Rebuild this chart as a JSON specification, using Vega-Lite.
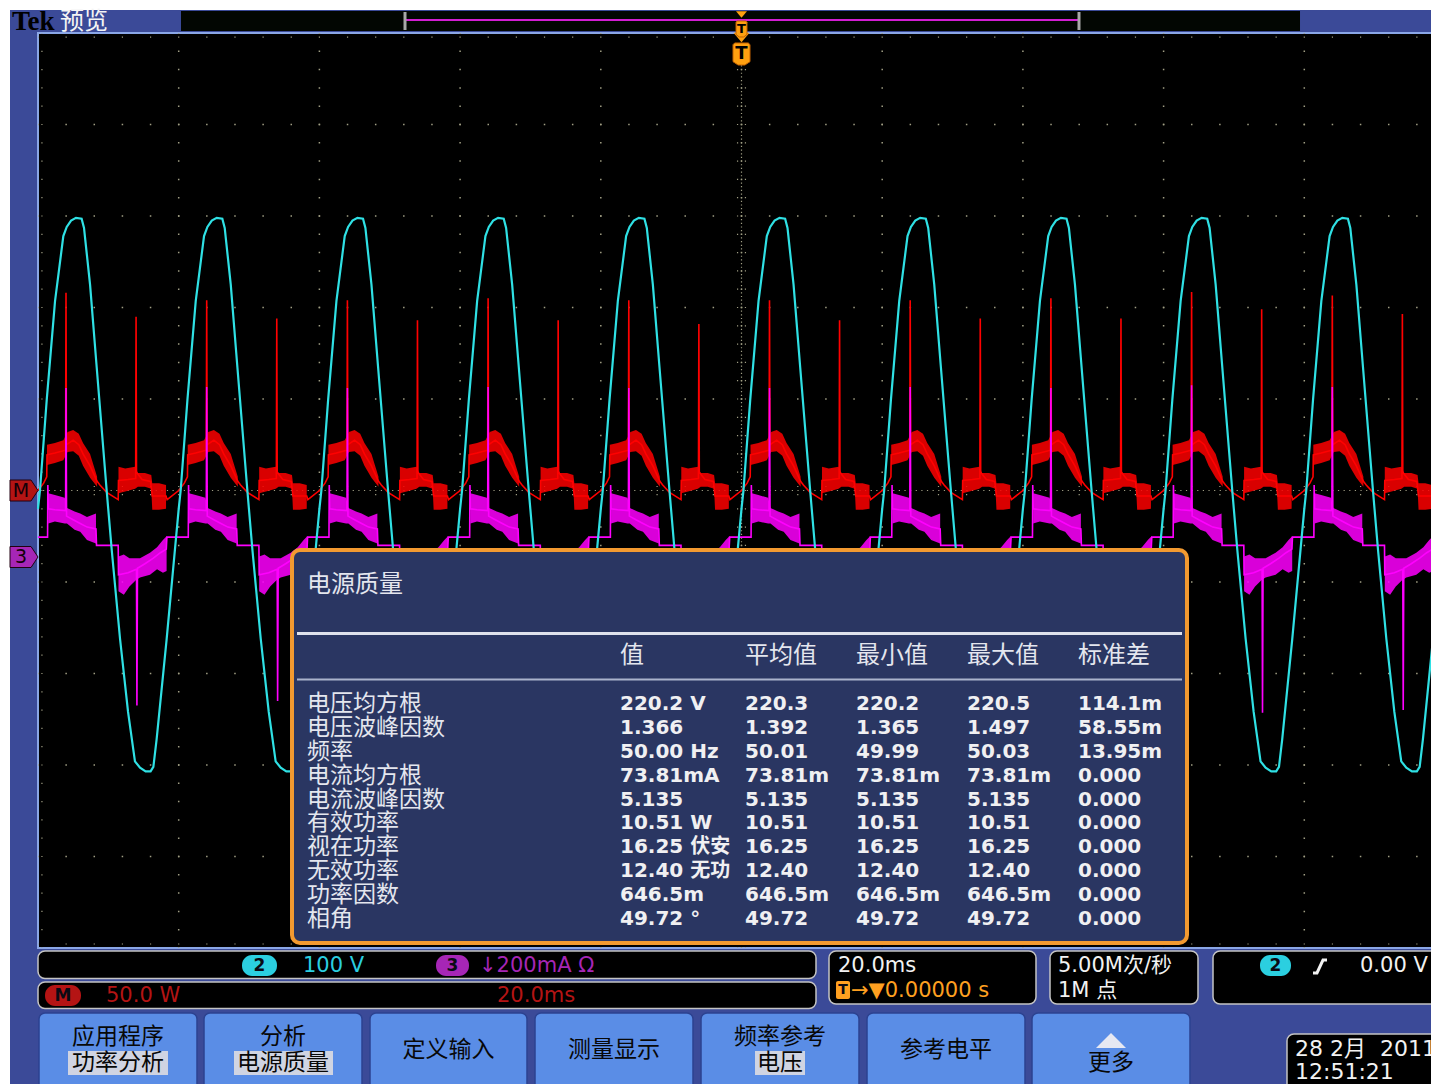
{
"$schema": "https://vega.github.io/schema/vega-lite/v6.json",
"width": 1431, "height": 1084, "autosize": "none", "padding": 0, "background": "white",
"config": {"view": {"stroke": null}},
"encoding": {
 "x": {"field": "x", "type": "quantitative", "scale": {"domain": [-0.2701, 9.9005], "nice": false, "zero": false}, "axis": null},
 "y": {"field": "y", "type": "quantitative", "scale": {"domain": [-6.4863, 5.3607], "nice": false, "zero": false}, "axis": null}
},
"datasets": {
 "frame": [{"x": -0.199, "x2": 10.2, "y": -6.7, "y2": 5.2514}],
 "bar": [{"x": 1.0163, "x2": 8.9695, "y": 5.0219, "y2": 5.2404}],
 "barline": [{"x": 2.6084, "x2": 7.3987, "y": 5.1421}],
 "brackets": [{"x": 2.6084, "y": 5.2295, "y2": 5.0328}, {"x": 7.3987, "y": 5.2295, "y2": 5.0328}],
 "plot": [{"x": 0, "x2": 10.2, "y": -5, "y2": 5}],
 "vgrid": [{"x": 1, "y": 5, "y2": -5}, {"x": 2, "y": 5, "y2": -5}, {"x": 3, "y": 5, "y2": -5}, {"x": 4, "y": 5, "y2": -5}, {"x": 5, "y": 5, "y2": -5}, {"x": 6, "y": 5, "y2": -5}, {"x": 7, "y": 5, "y2": -5}, {"x": 8, "y": 5, "y2": -5}, {"x": 9, "y": 5, "y2": -5}],
 "hgrid": [{"x": 0, "x2": 10.1, "y": 4}, {"x": 0, "x2": 10.1, "y": 3}, {"x": 0, "x2": 10.1, "y": 2}, {"x": 0, "x2": 10.1, "y": 1}, {"x": 0, "x2": 10.1, "y": -1}, {"x": 0, "x2": 10.1, "y": -2}, {"x": 0, "x2": 10.1, "y": -3}, {"x": 0, "x2": 10.1, "y": -4}],
 "vc": [{"x": 5, "y": 5, "y2": -5}],
 "hc": [{"x": 0, "x2": 10.1, "y": 0}],
 "vt": [{"x": 4.972, "y": 5, "y2": -5}, {"x": 5.028, "y": 5, "y2": -5}, {"x": 0.028, "y": 5, "y2": -5}],
 "ht": [{"x": 0, "x2": 10.1, "y": 0.044}, {"x": 0, "x2": 10.1, "y": -0.044}, {"x": 0, "x2": 10.1, "y": 4.956}, {"x": 0, "x2": 10.1, "y": -4.956}],
 "cyan": [
  {"x":0,"y":-0.2},{"x":0.014,"y":0},{"x":0.062,"y":0.99},{"x":0.121,"y":2.07},{"x":0.18,"y":2.78},{"x":0.204,"y":2.88},{"x":0.235,"y":2.95},{"x":0.27,"y":2.98},{"x":0.31,"y":2.97},{"x":0.327,"y":2.87},{"x":0.336,"y":2.74},{"x":0.37,"y":2.25},{"x":0.417,"y":1.35},{"x":0.488,"y":0},{"x":0.524,"y":-0.65},{"x":0.583,"y":-1.62},{"x":0.64,"y":-2.42},{"x":0.689,"y":-2.96},{"x":0.725,"y":-3.03},{"x":0.765,"y":-3.07},{"x":0.8,"y":-3.07},{"x":0.82,"y":-3.02},{"x":0.843,"y":-2.72},{"x":0.914,"y":-1.63},
  {"x":1,"y":-0.2},{"x":1.014,"y":0},{"x":1.062,"y":0.99},{"x":1.121,"y":2.07},{"x":1.18,"y":2.78},{"x":1.204,"y":2.88},{"x":1.235,"y":2.95},{"x":1.27,"y":2.98},{"x":1.31,"y":2.97},{"x":1.327,"y":2.87},{"x":1.336,"y":2.74},{"x":1.37,"y":2.25},{"x":1.417,"y":1.35},{"x":1.488,"y":0},{"x":1.524,"y":-0.65},{"x":1.583,"y":-1.62},{"x":1.64,"y":-2.42},{"x":1.689,"y":-2.96},{"x":1.725,"y":-3.03},{"x":1.765,"y":-3.07},{"x":1.8,"y":-3.07},{"x":1.82,"y":-3.02},{"x":1.843,"y":-2.72},{"x":1.914,"y":-1.63},
  {"x":2,"y":-0.2},{"x":2.014,"y":0},{"x":2.062,"y":0.99},{"x":2.121,"y":2.07},{"x":2.18,"y":2.78},{"x":2.204,"y":2.88},{"x":2.235,"y":2.95},{"x":2.27,"y":2.98},{"x":2.31,"y":2.97},{"x":2.327,"y":2.87},{"x":2.336,"y":2.74},{"x":2.37,"y":2.25},{"x":2.417,"y":1.35},{"x":2.488,"y":0},{"x":2.524,"y":-0.65},{"x":2.583,"y":-1.62},{"x":2.64,"y":-2.42},{"x":2.689,"y":-2.96},{"x":2.725,"y":-3.03},{"x":2.765,"y":-3.07},{"x":2.8,"y":-3.07},{"x":2.82,"y":-3.02},{"x":2.843,"y":-2.72},{"x":2.914,"y":-1.63},
  {"x":3,"y":-0.2},{"x":3.014,"y":0},{"x":3.062,"y":0.99},{"x":3.121,"y":2.07},{"x":3.18,"y":2.78},{"x":3.204,"y":2.88},{"x":3.235,"y":2.95},{"x":3.27,"y":2.98},{"x":3.31,"y":2.97},{"x":3.327,"y":2.87},{"x":3.336,"y":2.74},{"x":3.37,"y":2.25},{"x":3.417,"y":1.35},{"x":3.488,"y":0},{"x":3.524,"y":-0.65},{"x":3.583,"y":-1.62},{"x":3.64,"y":-2.42},{"x":3.689,"y":-2.96},{"x":3.725,"y":-3.03},{"x":3.765,"y":-3.07},{"x":3.8,"y":-3.07},{"x":3.82,"y":-3.02},{"x":3.843,"y":-2.72},{"x":3.914,"y":-1.63},
  {"x":4,"y":-0.2},{"x":4.014,"y":0},{"x":4.062,"y":0.99},{"x":4.121,"y":2.07},{"x":4.18,"y":2.78},{"x":4.204,"y":2.88},{"x":4.235,"y":2.95},{"x":4.27,"y":2.98},{"x":4.31,"y":2.97},{"x":4.327,"y":2.87},{"x":4.336,"y":2.74},{"x":4.37,"y":2.25},{"x":4.417,"y":1.35},{"x":4.488,"y":0},{"x":4.524,"y":-0.65},{"x":4.583,"y":-1.62},{"x":4.64,"y":-2.42},{"x":4.689,"y":-2.96},{"x":4.725,"y":-3.03},{"x":4.765,"y":-3.07},{"x":4.8,"y":-3.07},{"x":4.82,"y":-3.02},{"x":4.843,"y":-2.72},{"x":4.914,"y":-1.63},
  {"x":5,"y":-0.2},{"x":5.014,"y":0},{"x":5.062,"y":0.99},{"x":5.121,"y":2.07},{"x":5.18,"y":2.78},{"x":5.204,"y":2.88},{"x":5.235,"y":2.95},{"x":5.27,"y":2.98},{"x":5.31,"y":2.97},{"x":5.327,"y":2.87},{"x":5.336,"y":2.74},{"x":5.37,"y":2.25},{"x":5.417,"y":1.35},{"x":5.488,"y":0},{"x":5.524,"y":-0.65},{"x":5.583,"y":-1.62},{"x":5.64,"y":-2.42},{"x":5.689,"y":-2.96},{"x":5.725,"y":-3.03},{"x":5.765,"y":-3.07},{"x":5.8,"y":-3.07},{"x":5.82,"y":-3.02},{"x":5.843,"y":-2.72},{"x":5.914,"y":-1.63},
  {"x":6,"y":-0.2},{"x":6.014,"y":0},{"x":6.062,"y":0.99},{"x":6.121,"y":2.07},{"x":6.18,"y":2.78},{"x":6.204,"y":2.88},{"x":6.235,"y":2.95},{"x":6.27,"y":2.98},{"x":6.31,"y":2.97},{"x":6.327,"y":2.87},{"x":6.336,"y":2.74},{"x":6.37,"y":2.25},{"x":6.417,"y":1.35},{"x":6.488,"y":0},{"x":6.524,"y":-0.65},{"x":6.583,"y":-1.62},{"x":6.64,"y":-2.42},{"x":6.689,"y":-2.96},{"x":6.725,"y":-3.03},{"x":6.765,"y":-3.07},{"x":6.8,"y":-3.07},{"x":6.82,"y":-3.02},{"x":6.843,"y":-2.72},{"x":6.914,"y":-1.63},
  {"x":7,"y":-0.2},{"x":7.014,"y":0},{"x":7.062,"y":0.99},{"x":7.121,"y":2.07},{"x":7.18,"y":2.78},{"x":7.204,"y":2.88},{"x":7.235,"y":2.95},{"x":7.27,"y":2.98},{"x":7.31,"y":2.97},{"x":7.327,"y":2.87},{"x":7.336,"y":2.74},{"x":7.37,"y":2.25},{"x":7.417,"y":1.35},{"x":7.488,"y":0},{"x":7.524,"y":-0.65},{"x":7.583,"y":-1.62},{"x":7.64,"y":-2.42},{"x":7.689,"y":-2.96},{"x":7.725,"y":-3.03},{"x":7.765,"y":-3.07},{"x":7.8,"y":-3.07},{"x":7.82,"y":-3.02},{"x":7.843,"y":-2.72},{"x":7.914,"y":-1.63},
  {"x":8,"y":-0.2},{"x":8.014,"y":0},{"x":8.062,"y":0.99},{"x":8.121,"y":2.07},{"x":8.18,"y":2.78},{"x":8.204,"y":2.88},{"x":8.235,"y":2.95},{"x":8.27,"y":2.98},{"x":8.31,"y":2.97},{"x":8.327,"y":2.87},{"x":8.336,"y":2.74},{"x":8.37,"y":2.25},{"x":8.417,"y":1.35},{"x":8.488,"y":0},{"x":8.524,"y":-0.65},{"x":8.583,"y":-1.62},{"x":8.64,"y":-2.42},{"x":8.689,"y":-2.96},{"x":8.725,"y":-3.03},{"x":8.765,"y":-3.07},{"x":8.8,"y":-3.07},{"x":8.82,"y":-3.02},{"x":8.843,"y":-2.72},{"x":8.914,"y":-1.63},
  {"x":9,"y":-0.2},{"x":9.014,"y":0},{"x":9.062,"y":0.99},{"x":9.121,"y":2.07},{"x":9.18,"y":2.78},{"x":9.204,"y":2.88},{"x":9.235,"y":2.95},{"x":9.27,"y":2.98},{"x":9.31,"y":2.97},{"x":9.327,"y":2.87},{"x":9.336,"y":2.74},{"x":9.37,"y":2.25},{"x":9.417,"y":1.35},{"x":9.488,"y":0},{"x":9.524,"y":-0.65},{"x":9.583,"y":-1.62},{"x":9.64,"y":-2.42},{"x":9.689,"y":-2.96},{"x":9.725,"y":-3.03},{"x":9.765,"y":-3.07},{"x":9.8,"y":-3.07},{"x":9.82,"y":-3.02},{"x":9.843,"y":-2.72},{"x":9.914,"y":-1.63},
  {"x":10,"y":-0.2}
 ],
 "red": [
  {"x":0,"y":0},{"x":0.04,"y":0.08},{"x":0.062,"y":0.15},{"x":0.064,"y":0.39},{"x":0.12,"y":0.41},{"x":0.196,"y":0.44},{"x":0.199,"y":2.16},{"x":0.202,"y":0.5},{"x":0.25,"y":0.55},{"x":0.29,"y":0.5},{"x":0.32,"y":0.4},{"x":0.37,"y":0.27},{"x":0.42,"y":0.1},{"x":0.44,"y":0.06},{"x":0.488,"y":-0.02},{"x":0.57,"y":-0.1},{"x":0.572,"y":0.11},{"x":0.64,"y":0.12},{"x":0.694,"y":0.13},{"x":0.697,"y":1.9},{"x":0.7,"y":0.2},{"x":0.74,"y":0.12},{"x":0.8,"y":0.1},{"x":0.812,"y":-0.06},{"x":0.91,"y":-0.06},{"x":0.918,"y":-0.1},
  {"x":1,"y":0},{"x":1.04,"y":0.08},{"x":1.062,"y":0.15},{"x":1.064,"y":0.39},{"x":1.12,"y":0.41},{"x":1.196,"y":0.44},{"x":1.199,"y":2.08},{"x":1.202,"y":0.5},{"x":1.25,"y":0.55},{"x":1.29,"y":0.5},{"x":1.32,"y":0.4},{"x":1.37,"y":0.27},{"x":1.42,"y":0.1},{"x":1.44,"y":0.06},{"x":1.488,"y":-0.02},{"x":1.57,"y":-0.1},{"x":1.572,"y":0.11},{"x":1.64,"y":0.12},{"x":1.694,"y":0.13},{"x":1.697,"y":1.88},{"x":1.7,"y":0.2},{"x":1.74,"y":0.12},{"x":1.8,"y":0.1},{"x":1.812,"y":-0.06},{"x":1.91,"y":-0.06},{"x":1.918,"y":-0.1},
  {"x":2,"y":0},{"x":2.04,"y":0.08},{"x":2.062,"y":0.15},{"x":2.064,"y":0.39},{"x":2.12,"y":0.41},{"x":2.196,"y":0.44},{"x":2.199,"y":2.08},{"x":2.202,"y":0.5},{"x":2.25,"y":0.55},{"x":2.29,"y":0.5},{"x":2.32,"y":0.4},{"x":2.37,"y":0.27},{"x":2.42,"y":0.1},{"x":2.44,"y":0.06},{"x":2.488,"y":-0.02},{"x":2.57,"y":-0.1},{"x":2.572,"y":0.11},{"x":2.64,"y":0.12},{"x":2.694,"y":0.13},{"x":2.697,"y":1.86},{"x":2.7,"y":0.2},{"x":2.74,"y":0.12},{"x":2.8,"y":0.1},{"x":2.812,"y":-0.06},{"x":2.91,"y":-0.06},{"x":2.918,"y":-0.1},
  {"x":3,"y":0},{"x":3.04,"y":0.08},{"x":3.062,"y":0.15},{"x":3.064,"y":0.39},{"x":3.12,"y":0.41},{"x":3.196,"y":0.44},{"x":3.199,"y":2.1},{"x":3.202,"y":0.5},{"x":3.25,"y":0.55},{"x":3.29,"y":0.5},{"x":3.32,"y":0.4},{"x":3.37,"y":0.27},{"x":3.42,"y":0.1},{"x":3.44,"y":0.06},{"x":3.488,"y":-0.02},{"x":3.57,"y":-0.1},{"x":3.572,"y":0.11},{"x":3.64,"y":0.12},{"x":3.694,"y":0.13},{"x":3.697,"y":1.86},{"x":3.7,"y":0.2},{"x":3.74,"y":0.12},{"x":3.8,"y":0.1},{"x":3.812,"y":-0.06},{"x":3.91,"y":-0.06},{"x":3.918,"y":-0.1},
  {"x":4,"y":0},{"x":4.04,"y":0.08},{"x":4.062,"y":0.15},{"x":4.064,"y":0.39},{"x":4.12,"y":0.41},{"x":4.196,"y":0.44},{"x":4.199,"y":2.08},{"x":4.202,"y":0.5},{"x":4.25,"y":0.55},{"x":4.29,"y":0.5},{"x":4.32,"y":0.4},{"x":4.37,"y":0.27},{"x":4.42,"y":0.1},{"x":4.44,"y":0.06},{"x":4.488,"y":-0.02},{"x":4.57,"y":-0.1},{"x":4.572,"y":0.11},{"x":4.64,"y":0.12},{"x":4.694,"y":0.13},{"x":4.697,"y":1.82},{"x":4.7,"y":0.2},{"x":4.74,"y":0.12},{"x":4.8,"y":0.1},{"x":4.812,"y":-0.06},{"x":4.91,"y":-0.06},{"x":4.918,"y":-0.1},
  {"x":5,"y":0},{"x":5.04,"y":0.08},{"x":5.062,"y":0.15},{"x":5.064,"y":0.39},{"x":5.12,"y":0.41},{"x":5.196,"y":0.44},{"x":5.199,"y":2.08},{"x":5.202,"y":0.5},{"x":5.25,"y":0.55},{"x":5.29,"y":0.5},{"x":5.32,"y":0.4},{"x":5.37,"y":0.27},{"x":5.42,"y":0.1},{"x":5.44,"y":0.06},{"x":5.488,"y":-0.02},{"x":5.57,"y":-0.1},{"x":5.572,"y":0.11},{"x":5.64,"y":0.12},{"x":5.694,"y":0.13},{"x":5.697,"y":1.86},{"x":5.7,"y":0.2},{"x":5.74,"y":0.12},{"x":5.8,"y":0.1},{"x":5.812,"y":-0.06},{"x":5.91,"y":-0.06},{"x":5.918,"y":-0.1},
  {"x":6,"y":0},{"x":6.04,"y":0.08},{"x":6.062,"y":0.15},{"x":6.064,"y":0.39},{"x":6.12,"y":0.41},{"x":6.196,"y":0.44},{"x":6.199,"y":2.08},{"x":6.202,"y":0.5},{"x":6.25,"y":0.55},{"x":6.29,"y":0.5},{"x":6.32,"y":0.4},{"x":6.37,"y":0.27},{"x":6.42,"y":0.1},{"x":6.44,"y":0.06},{"x":6.488,"y":-0.02},{"x":6.57,"y":-0.1},{"x":6.572,"y":0.11},{"x":6.64,"y":0.12},{"x":6.694,"y":0.13},{"x":6.697,"y":1.88},{"x":6.7,"y":0.2},{"x":6.74,"y":0.12},{"x":6.8,"y":0.1},{"x":6.812,"y":-0.06},{"x":6.91,"y":-0.06},{"x":6.918,"y":-0.1},
  {"x":7,"y":0},{"x":7.04,"y":0.08},{"x":7.062,"y":0.15},{"x":7.064,"y":0.39},{"x":7.12,"y":0.41},{"x":7.196,"y":0.44},{"x":7.199,"y":2.1},{"x":7.202,"y":0.5},{"x":7.25,"y":0.55},{"x":7.29,"y":0.5},{"x":7.32,"y":0.4},{"x":7.37,"y":0.27},{"x":7.42,"y":0.1},{"x":7.44,"y":0.06},{"x":7.488,"y":-0.02},{"x":7.57,"y":-0.1},{"x":7.572,"y":0.11},{"x":7.64,"y":0.12},{"x":7.694,"y":0.13},{"x":7.697,"y":1.88},{"x":7.7,"y":0.2},{"x":7.74,"y":0.12},{"x":7.8,"y":0.1},{"x":7.812,"y":-0.06},{"x":7.91,"y":-0.06},{"x":7.918,"y":-0.1},
  {"x":8,"y":0},{"x":8.04,"y":0.08},{"x":8.062,"y":0.15},{"x":8.064,"y":0.39},{"x":8.12,"y":0.41},{"x":8.196,"y":0.44},{"x":8.199,"y":2.17},{"x":8.202,"y":0.5},{"x":8.25,"y":0.55},{"x":8.29,"y":0.5},{"x":8.32,"y":0.4},{"x":8.37,"y":0.27},{"x":8.42,"y":0.1},{"x":8.44,"y":0.06},{"x":8.488,"y":-0.02},{"x":8.57,"y":-0.1},{"x":8.572,"y":0.11},{"x":8.64,"y":0.12},{"x":8.694,"y":0.13},{"x":8.697,"y":1.98},{"x":8.7,"y":0.2},{"x":8.74,"y":0.12},{"x":8.8,"y":0.1},{"x":8.812,"y":-0.06},{"x":8.91,"y":-0.06},{"x":8.918,"y":-0.1},
  {"x":9,"y":0},{"x":9.04,"y":0.08},{"x":9.062,"y":0.15},{"x":9.064,"y":0.39},{"x":9.12,"y":0.41},{"x":9.196,"y":0.44},{"x":9.199,"y":2.13},{"x":9.202,"y":0.5},{"x":9.25,"y":0.55},{"x":9.29,"y":0.5},{"x":9.32,"y":0.4},{"x":9.37,"y":0.27},{"x":9.42,"y":0.1},{"x":9.44,"y":0.06},{"x":9.488,"y":-0.02},{"x":9.57,"y":-0.1},{"x":9.572,"y":0.11},{"x":9.64,"y":0.12},{"x":9.694,"y":0.13},{"x":9.697,"y":1.93},{"x":9.7,"y":0.2},{"x":9.74,"y":0.12},{"x":9.8,"y":0.1},{"x":9.812,"y":-0.06},{"x":9.91,"y":-0.06},{"x":9.918,"y":-0.1},
  {"x":10,"y":0}
 ],
 "redband": [
  {"x":0.064,"y":0.5,"y2":0.28,"s":"r0a"},{"x":0.12,"y":0.52,"y2":0.3,"s":"r0a"},{"x":0.18,"y":0.55,"y2":0.33,"s":"r0a"},{"x":0.21,"y":0.64,"y2":0.42,"s":"r0a"},{"x":0.25,"y":0.66,"y2":0.43,"s":"r0a"},{"x":0.29,"y":0.62,"y2":0.38,"s":"r0a"},{"x":0.32,"y":0.52,"y2":0.27,"s":"r0a"},{"x":0.37,"y":0.4,"y2":0.14,"s":"r0a"},{"x":0.42,"y":0.15,"y2":0.04,"s":"r0a"},
  {"x":0.572,"y":0.26,"y2":-0.03,"s":"r0b"},{"x":0.62,"y":0.24,"y2":-0.01,"s":"r0b"},{"x":0.69,"y":0.26,"y2":0.02,"s":"r0b"},{"x":0.71,"y":0.19,"y2":0.04,"s":"r0b"},{"x":0.76,"y":0.19,"y2":0.04,"s":"r0b"},{"x":0.805,"y":0.17,"y2":0.02,"s":"r0b"},{"x":0.812,"y":0.08,"y2":-0.21,"s":"r0b"},{"x":0.86,"y":0.08,"y2":-0.21,"s":"r0b"},{"x":0.91,"y":0.06,"y2":-0.2,"s":"r0b"},
  {"x":1.064,"y":0.5,"y2":0.28,"s":"r1a"},{"x":1.12,"y":0.52,"y2":0.3,"s":"r1a"},{"x":1.18,"y":0.55,"y2":0.33,"s":"r1a"},{"x":1.21,"y":0.64,"y2":0.42,"s":"r1a"},{"x":1.25,"y":0.66,"y2":0.43,"s":"r1a"},{"x":1.29,"y":0.62,"y2":0.38,"s":"r1a"},{"x":1.32,"y":0.52,"y2":0.27,"s":"r1a"},{"x":1.37,"y":0.4,"y2":0.14,"s":"r1a"},{"x":1.42,"y":0.15,"y2":0.04,"s":"r1a"},
  {"x":1.572,"y":0.26,"y2":-0.03,"s":"r1b"},{"x":1.62,"y":0.24,"y2":-0.01,"s":"r1b"},{"x":1.69,"y":0.26,"y2":0.02,"s":"r1b"},{"x":1.71,"y":0.19,"y2":0.04,"s":"r1b"},{"x":1.76,"y":0.19,"y2":0.04,"s":"r1b"},{"x":1.805,"y":0.17,"y2":0.02,"s":"r1b"},{"x":1.812,"y":0.08,"y2":-0.21,"s":"r1b"},{"x":1.86,"y":0.08,"y2":-0.21,"s":"r1b"},{"x":1.91,"y":0.06,"y2":-0.2,"s":"r1b"},
  {"x":2.064,"y":0.5,"y2":0.28,"s":"r2a"},{"x":2.12,"y":0.52,"y2":0.3,"s":"r2a"},{"x":2.18,"y":0.55,"y2":0.33,"s":"r2a"},{"x":2.21,"y":0.64,"y2":0.42,"s":"r2a"},{"x":2.25,"y":0.66,"y2":0.43,"s":"r2a"},{"x":2.29,"y":0.62,"y2":0.38,"s":"r2a"},{"x":2.32,"y":0.52,"y2":0.27,"s":"r2a"},{"x":2.37,"y":0.4,"y2":0.14,"s":"r2a"},{"x":2.42,"y":0.15,"y2":0.04,"s":"r2a"},
  {"x":2.572,"y":0.26,"y2":-0.03,"s":"r2b"},{"x":2.62,"y":0.24,"y2":-0.01,"s":"r2b"},{"x":2.69,"y":0.26,"y2":0.02,"s":"r2b"},{"x":2.71,"y":0.19,"y2":0.04,"s":"r2b"},{"x":2.76,"y":0.19,"y2":0.04,"s":"r2b"},{"x":2.805,"y":0.17,"y2":0.02,"s":"r2b"},{"x":2.812,"y":0.08,"y2":-0.21,"s":"r2b"},{"x":2.86,"y":0.08,"y2":-0.21,"s":"r2b"},{"x":2.91,"y":0.06,"y2":-0.2,"s":"r2b"},
  {"x":3.064,"y":0.5,"y2":0.28,"s":"r3a"},{"x":3.12,"y":0.52,"y2":0.3,"s":"r3a"},{"x":3.18,"y":0.55,"y2":0.33,"s":"r3a"},{"x":3.21,"y":0.64,"y2":0.42,"s":"r3a"},{"x":3.25,"y":0.66,"y2":0.43,"s":"r3a"},{"x":3.29,"y":0.62,"y2":0.38,"s":"r3a"},{"x":3.32,"y":0.52,"y2":0.27,"s":"r3a"},{"x":3.37,"y":0.4,"y2":0.14,"s":"r3a"},{"x":3.42,"y":0.15,"y2":0.04,"s":"r3a"},
  {"x":3.572,"y":0.26,"y2":-0.03,"s":"r3b"},{"x":3.62,"y":0.24,"y2":-0.01,"s":"r3b"},{"x":3.69,"y":0.26,"y2":0.02,"s":"r3b"},{"x":3.71,"y":0.19,"y2":0.04,"s":"r3b"},{"x":3.76,"y":0.19,"y2":0.04,"s":"r3b"},{"x":3.805,"y":0.17,"y2":0.02,"s":"r3b"},{"x":3.812,"y":0.08,"y2":-0.21,"s":"r3b"},{"x":3.86,"y":0.08,"y2":-0.21,"s":"r3b"},{"x":3.91,"y":0.06,"y2":-0.2,"s":"r3b"},
  {"x":4.064,"y":0.5,"y2":0.28,"s":"r4a"},{"x":4.12,"y":0.52,"y2":0.3,"s":"r4a"},{"x":4.18,"y":0.55,"y2":0.33,"s":"r4a"},{"x":4.21,"y":0.64,"y2":0.42,"s":"r4a"},{"x":4.25,"y":0.66,"y2":0.43,"s":"r4a"},{"x":4.29,"y":0.62,"y2":0.38,"s":"r4a"},{"x":4.32,"y":0.52,"y2":0.27,"s":"r4a"},{"x":4.37,"y":0.4,"y2":0.14,"s":"r4a"},{"x":4.42,"y":0.15,"y2":0.04,"s":"r4a"},
  {"x":4.572,"y":0.26,"y2":-0.03,"s":"r4b"},{"x":4.62,"y":0.24,"y2":-0.01,"s":"r4b"},{"x":4.69,"y":0.26,"y2":0.02,"s":"r4b"},{"x":4.71,"y":0.19,"y2":0.04,"s":"r4b"},{"x":4.76,"y":0.19,"y2":0.04,"s":"r4b"},{"x":4.805,"y":0.17,"y2":0.02,"s":"r4b"},{"x":4.812,"y":0.08,"y2":-0.21,"s":"r4b"},{"x":4.86,"y":0.08,"y2":-0.21,"s":"r4b"},{"x":4.91,"y":0.06,"y2":-0.2,"s":"r4b"},
  {"x":5.064,"y":0.5,"y2":0.28,"s":"r5a"},{"x":5.12,"y":0.52,"y2":0.3,"s":"r5a"},{"x":5.18,"y":0.55,"y2":0.33,"s":"r5a"},{"x":5.21,"y":0.64,"y2":0.42,"s":"r5a"},{"x":5.25,"y":0.66,"y2":0.43,"s":"r5a"},{"x":5.29,"y":0.62,"y2":0.38,"s":"r5a"},{"x":5.32,"y":0.52,"y2":0.27,"s":"r5a"},{"x":5.37,"y":0.4,"y2":0.14,"s":"r5a"},{"x":5.42,"y":0.15,"y2":0.04,"s":"r5a"},
  {"x":5.572,"y":0.26,"y2":-0.03,"s":"r5b"},{"x":5.62,"y":0.24,"y2":-0.01,"s":"r5b"},{"x":5.69,"y":0.26,"y2":0.02,"s":"r5b"},{"x":5.71,"y":0.19,"y2":0.04,"s":"r5b"},{"x":5.76,"y":0.19,"y2":0.04,"s":"r5b"},{"x":5.805,"y":0.17,"y2":0.02,"s":"r5b"},{"x":5.812,"y":0.08,"y2":-0.21,"s":"r5b"},{"x":5.86,"y":0.08,"y2":-0.21,"s":"r5b"},{"x":5.91,"y":0.06,"y2":-0.2,"s":"r5b"},
  {"x":6.064,"y":0.5,"y2":0.28,"s":"r6a"},{"x":6.12,"y":0.52,"y2":0.3,"s":"r6a"},{"x":6.18,"y":0.55,"y2":0.33,"s":"r6a"},{"x":6.21,"y":0.64,"y2":0.42,"s":"r6a"},{"x":6.25,"y":0.66,"y2":0.43,"s":"r6a"},{"x":6.29,"y":0.62,"y2":0.38,"s":"r6a"},{"x":6.32,"y":0.52,"y2":0.27,"s":"r6a"},{"x":6.37,"y":0.4,"y2":0.14,"s":"r6a"},{"x":6.42,"y":0.15,"y2":0.04,"s":"r6a"},
  {"x":6.572,"y":0.26,"y2":-0.03,"s":"r6b"},{"x":6.62,"y":0.24,"y2":-0.01,"s":"r6b"},{"x":6.69,"y":0.26,"y2":0.02,"s":"r6b"},{"x":6.71,"y":0.19,"y2":0.04,"s":"r6b"},{"x":6.76,"y":0.19,"y2":0.04,"s":"r6b"},{"x":6.805,"y":0.17,"y2":0.02,"s":"r6b"},{"x":6.812,"y":0.08,"y2":-0.21,"s":"r6b"},{"x":6.86,"y":0.08,"y2":-0.21,"s":"r6b"},{"x":6.91,"y":0.06,"y2":-0.2,"s":"r6b"},
  {"x":7.064,"y":0.5,"y2":0.28,"s":"r7a"},{"x":7.12,"y":0.52,"y2":0.3,"s":"r7a"},{"x":7.18,"y":0.55,"y2":0.33,"s":"r7a"},{"x":7.21,"y":0.64,"y2":0.42,"s":"r7a"},{"x":7.25,"y":0.66,"y2":0.43,"s":"r7a"},{"x":7.29,"y":0.62,"y2":0.38,"s":"r7a"},{"x":7.32,"y":0.52,"y2":0.27,"s":"r7a"},{"x":7.37,"y":0.4,"y2":0.14,"s":"r7a"},{"x":7.42,"y":0.15,"y2":0.04,"s":"r7a"},
  {"x":7.572,"y":0.26,"y2":-0.03,"s":"r7b"},{"x":7.62,"y":0.24,"y2":-0.01,"s":"r7b"},{"x":7.69,"y":0.26,"y2":0.02,"s":"r7b"},{"x":7.71,"y":0.19,"y2":0.04,"s":"r7b"},{"x":7.76,"y":0.19,"y2":0.04,"s":"r7b"},{"x":7.805,"y":0.17,"y2":0.02,"s":"r7b"},{"x":7.812,"y":0.08,"y2":-0.21,"s":"r7b"},{"x":7.86,"y":0.08,"y2":-0.21,"s":"r7b"},{"x":7.91,"y":0.06,"y2":-0.2,"s":"r7b"},
  {"x":8.064,"y":0.5,"y2":0.28,"s":"r8a"},{"x":8.12,"y":0.52,"y2":0.3,"s":"r8a"},{"x":8.18,"y":0.55,"y2":0.33,"s":"r8a"},{"x":8.21,"y":0.64,"y2":0.42,"s":"r8a"},{"x":8.25,"y":0.66,"y2":0.43,"s":"r8a"},{"x":8.29,"y":0.62,"y2":0.38,"s":"r8a"},{"x":8.32,"y":0.52,"y2":0.27,"s":"r8a"},{"x":8.37,"y":0.4,"y2":0.14,"s":"r8a"},{"x":8.42,"y":0.15,"y2":0.04,"s":"r8a"},
  {"x":8.572,"y":0.26,"y2":-0.03,"s":"r8b"},{"x":8.62,"y":0.24,"y2":-0.01,"s":"r8b"},{"x":8.69,"y":0.26,"y2":0.02,"s":"r8b"},{"x":8.71,"y":0.19,"y2":0.04,"s":"r8b"},{"x":8.76,"y":0.19,"y2":0.04,"s":"r8b"},{"x":8.805,"y":0.17,"y2":0.02,"s":"r8b"},{"x":8.812,"y":0.08,"y2":-0.21,"s":"r8b"},{"x":8.86,"y":0.08,"y2":-0.21,"s":"r8b"},{"x":8.91,"y":0.06,"y2":-0.2,"s":"r8b"},
  {"x":9.064,"y":0.5,"y2":0.28,"s":"r9a"},{"x":9.12,"y":0.52,"y2":0.3,"s":"r9a"},{"x":9.18,"y":0.55,"y2":0.33,"s":"r9a"},{"x":9.21,"y":0.64,"y2":0.42,"s":"r9a"},{"x":9.25,"y":0.66,"y2":0.43,"s":"r9a"},{"x":9.29,"y":0.62,"y2":0.38,"s":"r9a"},{"x":9.32,"y":0.52,"y2":0.27,"s":"r9a"},{"x":9.37,"y":0.4,"y2":0.14,"s":"r9a"},{"x":9.42,"y":0.15,"y2":0.04,"s":"r9a"},
  {"x":9.572,"y":0.26,"y2":-0.03,"s":"r9b"},{"x":9.62,"y":0.24,"y2":-0.01,"s":"r9b"},{"x":9.69,"y":0.26,"y2":0.02,"s":"r9b"},{"x":9.71,"y":0.19,"y2":0.04,"s":"r9b"},{"x":9.76,"y":0.19,"y2":0.04,"s":"r9b"},{"x":9.805,"y":0.17,"y2":0.02,"s":"r9b"},{"x":9.812,"y":0.08,"y2":-0.21,"s":"r9b"},{"x":9.86,"y":0.08,"y2":-0.21,"s":"r9b"},{"x":9.91,"y":0.06,"y2":-0.2,"s":"r9b"}
 ],
 "mag": [
  {"x":0,"y":-0.51},{"x":0.068,"y":-0.51},{"x":0.07,"y":0.06},{"x":0.073,"y":-0.2},{"x":0.12,"y":-0.21},{"x":0.196,"y":-0.22},{"x":0.199,"y":1.12},{"x":0.203,"y":-0.28},{"x":0.25,"y":-0.32},{"x":0.3,"y":-0.36},{"x":0.35,"y":-0.4},{"x":0.412,"y":-0.42},{"x":0.416,"y":-0.6},{"x":0.57,"y":-0.6},{"x":0.572,"y":-0.92},{"x":0.64,"y":-0.9},{"x":0.7,"y":-0.86},{"x":0.703,"y":-2.35},{"x":0.707,"y":-0.85},{"x":0.76,"y":-0.8},{"x":0.82,"y":-0.74},{"x":0.87,"y":-0.68},{"x":0.912,"y":-0.64},{"x":0.916,"y":-0.51},
  {"x":1,"y":-0.51},{"x":1.068,"y":-0.51},{"x":1.07,"y":0.06},{"x":1.073,"y":-0.2},{"x":1.12,"y":-0.21},{"x":1.196,"y":-0.22},{"x":1.199,"y":1.13},{"x":1.203,"y":-0.28},{"x":1.25,"y":-0.32},{"x":1.3,"y":-0.36},{"x":1.35,"y":-0.4},{"x":1.412,"y":-0.42},{"x":1.416,"y":-0.6},{"x":1.57,"y":-0.6},{"x":1.572,"y":-0.92},{"x":1.64,"y":-0.9},{"x":1.7,"y":-0.86},{"x":1.703,"y":-2.3},{"x":1.707,"y":-0.85},{"x":1.76,"y":-0.8},{"x":1.82,"y":-0.74},{"x":1.87,"y":-0.68},{"x":1.912,"y":-0.64},{"x":1.916,"y":-0.51},
  {"x":2,"y":-0.51},{"x":2.068,"y":-0.51},{"x":2.07,"y":0.06},{"x":2.073,"y":-0.2},{"x":2.12,"y":-0.21},{"x":2.196,"y":-0.22},{"x":2.199,"y":1.12},{"x":2.203,"y":-0.28},{"x":2.25,"y":-0.32},{"x":2.3,"y":-0.36},{"x":2.35,"y":-0.4},{"x":2.412,"y":-0.42},{"x":2.416,"y":-0.6},{"x":2.57,"y":-0.6},{"x":2.572,"y":-0.92},{"x":2.64,"y":-0.9},{"x":2.7,"y":-0.86},{"x":2.703,"y":-2.35},{"x":2.707,"y":-0.85},{"x":2.76,"y":-0.8},{"x":2.82,"y":-0.74},{"x":2.87,"y":-0.68},{"x":2.912,"y":-0.64},{"x":2.916,"y":-0.51},
  {"x":3,"y":-0.51},{"x":3.068,"y":-0.51},{"x":3.07,"y":0.06},{"x":3.073,"y":-0.2},{"x":3.12,"y":-0.21},{"x":3.196,"y":-0.22},{"x":3.199,"y":1.13},{"x":3.203,"y":-0.28},{"x":3.25,"y":-0.32},{"x":3.3,"y":-0.36},{"x":3.35,"y":-0.4},{"x":3.412,"y":-0.42},{"x":3.416,"y":-0.6},{"x":3.57,"y":-0.6},{"x":3.572,"y":-0.92},{"x":3.64,"y":-0.9},{"x":3.7,"y":-0.86},{"x":3.703,"y":-2.33},{"x":3.707,"y":-0.85},{"x":3.76,"y":-0.8},{"x":3.82,"y":-0.74},{"x":3.87,"y":-0.68},{"x":3.912,"y":-0.64},{"x":3.916,"y":-0.51},
  {"x":4,"y":-0.51},{"x":4.068,"y":-0.51},{"x":4.07,"y":0.06},{"x":4.073,"y":-0.2},{"x":4.12,"y":-0.21},{"x":4.196,"y":-0.22},{"x":4.199,"y":1.12},{"x":4.203,"y":-0.28},{"x":4.25,"y":-0.32},{"x":4.3,"y":-0.36},{"x":4.35,"y":-0.4},{"x":4.412,"y":-0.42},{"x":4.416,"y":-0.6},{"x":4.57,"y":-0.6},{"x":4.572,"y":-0.92},{"x":4.64,"y":-0.9},{"x":4.7,"y":-0.86},{"x":4.703,"y":-2.35},{"x":4.707,"y":-0.85},{"x":4.76,"y":-0.8},{"x":4.82,"y":-0.74},{"x":4.87,"y":-0.68},{"x":4.912,"y":-0.64},{"x":4.916,"y":-0.51},
  {"x":5,"y":-0.51},{"x":5.068,"y":-0.51},{"x":5.07,"y":0.06},{"x":5.073,"y":-0.2},{"x":5.12,"y":-0.21},{"x":5.196,"y":-0.22},{"x":5.199,"y":1.12},{"x":5.203,"y":-0.28},{"x":5.25,"y":-0.32},{"x":5.3,"y":-0.36},{"x":5.35,"y":-0.4},{"x":5.412,"y":-0.42},{"x":5.416,"y":-0.6},{"x":5.57,"y":-0.6},{"x":5.572,"y":-0.92},{"x":5.64,"y":-0.9},{"x":5.7,"y":-0.86},{"x":5.703,"y":-2.34},{"x":5.707,"y":-0.85},{"x":5.76,"y":-0.8},{"x":5.82,"y":-0.74},{"x":5.87,"y":-0.68},{"x":5.912,"y":-0.64},{"x":5.916,"y":-0.51},
  {"x":6,"y":-0.51},{"x":6.068,"y":-0.51},{"x":6.07,"y":0.06},{"x":6.073,"y":-0.2},{"x":6.12,"y":-0.21},{"x":6.196,"y":-0.22},{"x":6.199,"y":1.13},{"x":6.203,"y":-0.28},{"x":6.25,"y":-0.32},{"x":6.3,"y":-0.36},{"x":6.35,"y":-0.4},{"x":6.412,"y":-0.42},{"x":6.416,"y":-0.6},{"x":6.57,"y":-0.6},{"x":6.572,"y":-0.92},{"x":6.64,"y":-0.9},{"x":6.7,"y":-0.86},{"x":6.703,"y":-2.33},{"x":6.707,"y":-0.85},{"x":6.76,"y":-0.8},{"x":6.82,"y":-0.74},{"x":6.87,"y":-0.68},{"x":6.912,"y":-0.64},{"x":6.916,"y":-0.51},
  {"x":7,"y":-0.51},{"x":7.068,"y":-0.51},{"x":7.07,"y":0.06},{"x":7.073,"y":-0.2},{"x":7.12,"y":-0.21},{"x":7.196,"y":-0.22},{"x":7.199,"y":1.12},{"x":7.203,"y":-0.28},{"x":7.25,"y":-0.32},{"x":7.3,"y":-0.36},{"x":7.35,"y":-0.4},{"x":7.412,"y":-0.42},{"x":7.416,"y":-0.6},{"x":7.57,"y":-0.6},{"x":7.572,"y":-0.92},{"x":7.64,"y":-0.9},{"x":7.7,"y":-0.86},{"x":7.703,"y":-2.35},{"x":7.707,"y":-0.85},{"x":7.76,"y":-0.8},{"x":7.82,"y":-0.74},{"x":7.87,"y":-0.68},{"x":7.912,"y":-0.64},{"x":7.916,"y":-0.51},
  {"x":8,"y":-0.51},{"x":8.068,"y":-0.51},{"x":8.07,"y":0.06},{"x":8.073,"y":-0.2},{"x":8.12,"y":-0.21},{"x":8.196,"y":-0.22},{"x":8.199,"y":1.15},{"x":8.203,"y":-0.28},{"x":8.25,"y":-0.32},{"x":8.3,"y":-0.36},{"x":8.35,"y":-0.4},{"x":8.412,"y":-0.42},{"x":8.416,"y":-0.6},{"x":8.57,"y":-0.6},{"x":8.572,"y":-0.92},{"x":8.64,"y":-0.9},{"x":8.7,"y":-0.86},{"x":8.703,"y":-2.43},{"x":8.707,"y":-0.85},{"x":8.76,"y":-0.8},{"x":8.82,"y":-0.74},{"x":8.87,"y":-0.68},{"x":8.912,"y":-0.64},{"x":8.916,"y":-0.51},
  {"x":9,"y":-0.51},{"x":9.068,"y":-0.51},{"x":9.07,"y":0.06},{"x":9.073,"y":-0.2},{"x":9.12,"y":-0.21},{"x":9.196,"y":-0.22},{"x":9.199,"y":1.13},{"x":9.203,"y":-0.28},{"x":9.25,"y":-0.32},{"x":9.3,"y":-0.36},{"x":9.35,"y":-0.4},{"x":9.412,"y":-0.42},{"x":9.416,"y":-0.6},{"x":9.57,"y":-0.6},{"x":9.572,"y":-0.92},{"x":9.64,"y":-0.9},{"x":9.7,"y":-0.86},{"x":9.703,"y":-2.4},{"x":9.707,"y":-0.85},{"x":9.76,"y":-0.8},{"x":9.82,"y":-0.74},{"x":9.87,"y":-0.68},{"x":9.912,"y":-0.64},{"x":9.916,"y":-0.51},
  {"x":10,"y":-0.51}
 ],
 "magband": [
  {"x":0.073,"y":-0.03,"y2":-0.36,"s":"m0a"},{"x":0.12,"y":-0.05,"y2":-0.34,"s":"m0a"},{"x":0.19,"y":-0.08,"y2":-0.36,"s":"m0a"},{"x":0.206,"y":-0.19,"y2":-0.36,"s":"m0a"},{"x":0.26,"y":-0.23,"y2":-0.43,"s":"m0a"},{"x":0.3,"y":-0.25,"y2":-0.45,"s":"m0a"},{"x":0.348,"y":-0.29,"y2":-0.54,"s":"m0a"},{"x":0.412,"y":-0.25,"y2":-0.58,"s":"m0a"},
  {"x":0.572,"y":-0.72,"y2":-1.1,"s":"m0b"},{"x":0.61,"y":-0.7,"y2":-1.14,"s":"m0b"},{"x":0.65,"y":-0.74,"y2":-1.05,"s":"m0b"},{"x":0.695,"y":-0.74,"y2":-0.98,"s":"m0b"},{"x":0.725,"y":-0.74,"y2":-0.95,"s":"m0b"},{"x":0.796,"y":-0.68,"y2":-0.92,"s":"m0b"},{"x":0.846,"y":-0.62,"y2":-0.86,"s":"m0b"},{"x":0.888,"y":-0.54,"y2":-0.9,"s":"m0b"},{"x":0.914,"y":-0.5,"y2":-0.88,"s":"m0b"},
  {"x":1.073,"y":-0.03,"y2":-0.36,"s":"m1a"},{"x":1.12,"y":-0.05,"y2":-0.34,"s":"m1a"},{"x":1.19,"y":-0.08,"y2":-0.36,"s":"m1a"},{"x":1.206,"y":-0.19,"y2":-0.36,"s":"m1a"},{"x":1.26,"y":-0.23,"y2":-0.43,"s":"m1a"},{"x":1.3,"y":-0.25,"y2":-0.45,"s":"m1a"},{"x":1.348,"y":-0.29,"y2":-0.54,"s":"m1a"},{"x":1.412,"y":-0.25,"y2":-0.58,"s":"m1a"},
  {"x":1.572,"y":-0.72,"y2":-1.1,"s":"m1b"},{"x":1.61,"y":-0.7,"y2":-1.14,"s":"m1b"},{"x":1.65,"y":-0.74,"y2":-1.05,"s":"m1b"},{"x":1.695,"y":-0.74,"y2":-0.98,"s":"m1b"},{"x":1.725,"y":-0.74,"y2":-0.95,"s":"m1b"},{"x":1.796,"y":-0.68,"y2":-0.92,"s":"m1b"},{"x":1.846,"y":-0.62,"y2":-0.86,"s":"m1b"},{"x":1.888,"y":-0.54,"y2":-0.9,"s":"m1b"},{"x":1.914,"y":-0.5,"y2":-0.88,"s":"m1b"},
  {"x":2.073,"y":-0.03,"y2":-0.36,"s":"m2a"},{"x":2.12,"y":-0.05,"y2":-0.34,"s":"m2a"},{"x":2.19,"y":-0.08,"y2":-0.36,"s":"m2a"},{"x":2.206,"y":-0.19,"y2":-0.36,"s":"m2a"},{"x":2.26,"y":-0.23,"y2":-0.43,"s":"m2a"},{"x":2.3,"y":-0.25,"y2":-0.45,"s":"m2a"},{"x":2.348,"y":-0.29,"y2":-0.54,"s":"m2a"},{"x":2.412,"y":-0.25,"y2":-0.58,"s":"m2a"},
  {"x":2.572,"y":-0.72,"y2":-1.1,"s":"m2b"},{"x":2.61,"y":-0.7,"y2":-1.14,"s":"m2b"},{"x":2.65,"y":-0.74,"y2":-1.05,"s":"m2b"},{"x":2.695,"y":-0.74,"y2":-0.98,"s":"m2b"},{"x":2.725,"y":-0.74,"y2":-0.95,"s":"m2b"},{"x":2.796,"y":-0.68,"y2":-0.92,"s":"m2b"},{"x":2.846,"y":-0.62,"y2":-0.86,"s":"m2b"},{"x":2.888,"y":-0.54,"y2":-0.9,"s":"m2b"},{"x":2.914,"y":-0.5,"y2":-0.88,"s":"m2b"},
  {"x":3.073,"y":-0.03,"y2":-0.36,"s":"m3a"},{"x":3.12,"y":-0.05,"y2":-0.34,"s":"m3a"},{"x":3.19,"y":-0.08,"y2":-0.36,"s":"m3a"},{"x":3.206,"y":-0.19,"y2":-0.36,"s":"m3a"},{"x":3.26,"y":-0.23,"y2":-0.43,"s":"m3a"},{"x":3.3,"y":-0.25,"y2":-0.45,"s":"m3a"},{"x":3.348,"y":-0.29,"y2":-0.54,"s":"m3a"},{"x":3.412,"y":-0.25,"y2":-0.58,"s":"m3a"},
  {"x":3.572,"y":-0.72,"y2":-1.1,"s":"m3b"},{"x":3.61,"y":-0.7,"y2":-1.14,"s":"m3b"},{"x":3.65,"y":-0.74,"y2":-1.05,"s":"m3b"},{"x":3.695,"y":-0.74,"y2":-0.98,"s":"m3b"},{"x":3.725,"y":-0.74,"y2":-0.95,"s":"m3b"},{"x":3.796,"y":-0.68,"y2":-0.92,"s":"m3b"},{"x":3.846,"y":-0.62,"y2":-0.86,"s":"m3b"},{"x":3.888,"y":-0.54,"y2":-0.9,"s":"m3b"},{"x":3.914,"y":-0.5,"y2":-0.88,"s":"m3b"},
  {"x":4.073,"y":-0.03,"y2":-0.36,"s":"m4a"},{"x":4.12,"y":-0.05,"y2":-0.34,"s":"m4a"},{"x":4.19,"y":-0.08,"y2":-0.36,"s":"m4a"},{"x":4.206,"y":-0.19,"y2":-0.36,"s":"m4a"},{"x":4.26,"y":-0.23,"y2":-0.43,"s":"m4a"},{"x":4.3,"y":-0.25,"y2":-0.45,"s":"m4a"},{"x":4.348,"y":-0.29,"y2":-0.54,"s":"m4a"},{"x":4.412,"y":-0.25,"y2":-0.58,"s":"m4a"},
  {"x":4.572,"y":-0.72,"y2":-1.1,"s":"m4b"},{"x":4.61,"y":-0.7,"y2":-1.14,"s":"m4b"},{"x":4.65,"y":-0.74,"y2":-1.05,"s":"m4b"},{"x":4.695,"y":-0.74,"y2":-0.98,"s":"m4b"},{"x":4.725,"y":-0.74,"y2":-0.95,"s":"m4b"},{"x":4.796,"y":-0.68,"y2":-0.92,"s":"m4b"},{"x":4.846,"y":-0.62,"y2":-0.86,"s":"m4b"},{"x":4.888,"y":-0.54,"y2":-0.9,"s":"m4b"},{"x":4.914,"y":-0.5,"y2":-0.88,"s":"m4b"},
  {"x":5.073,"y":-0.03,"y2":-0.36,"s":"m5a"},{"x":5.12,"y":-0.05,"y2":-0.34,"s":"m5a"},{"x":5.19,"y":-0.08,"y2":-0.36,"s":"m5a"},{"x":5.206,"y":-0.19,"y2":-0.36,"s":"m5a"},{"x":5.26,"y":-0.23,"y2":-0.43,"s":"m5a"},{"x":5.3,"y":-0.25,"y2":-0.45,"s":"m5a"},{"x":5.348,"y":-0.29,"y2":-0.54,"s":"m5a"},{"x":5.412,"y":-0.25,"y2":-0.58,"s":"m5a"},
  {"x":5.572,"y":-0.72,"y2":-1.1,"s":"m5b"},{"x":5.61,"y":-0.7,"y2":-1.14,"s":"m5b"},{"x":5.65,"y":-0.74,"y2":-1.05,"s":"m5b"},{"x":5.695,"y":-0.74,"y2":-0.98,"s":"m5b"},{"x":5.725,"y":-0.74,"y2":-0.95,"s":"m5b"},{"x":5.796,"y":-0.68,"y2":-0.92,"s":"m5b"},{"x":5.846,"y":-0.62,"y2":-0.86,"s":"m5b"},{"x":5.888,"y":-0.54,"y2":-0.9,"s":"m5b"},{"x":5.914,"y":-0.5,"y2":-0.88,"s":"m5b"},
  {"x":6.073,"y":-0.03,"y2":-0.36,"s":"m6a"},{"x":6.12,"y":-0.05,"y2":-0.34,"s":"m6a"},{"x":6.19,"y":-0.08,"y2":-0.36,"s":"m6a"},{"x":6.206,"y":-0.19,"y2":-0.36,"s":"m6a"},{"x":6.26,"y":-0.23,"y2":-0.43,"s":"m6a"},{"x":6.3,"y":-0.25,"y2":-0.45,"s":"m6a"},{"x":6.348,"y":-0.29,"y2":-0.54,"s":"m6a"},{"x":6.412,"y":-0.25,"y2":-0.58,"s":"m6a"},
  {"x":6.572,"y":-0.72,"y2":-1.1,"s":"m6b"},{"x":6.61,"y":-0.7,"y2":-1.14,"s":"m6b"},{"x":6.65,"y":-0.74,"y2":-1.05,"s":"m6b"},{"x":6.695,"y":-0.74,"y2":-0.98,"s":"m6b"},{"x":6.725,"y":-0.74,"y2":-0.95,"s":"m6b"},{"x":6.796,"y":-0.68,"y2":-0.92,"s":"m6b"},{"x":6.846,"y":-0.62,"y2":-0.86,"s":"m6b"},{"x":6.888,"y":-0.54,"y2":-0.9,"s":"m6b"},{"x":6.914,"y":-0.5,"y2":-0.88,"s":"m6b"},
  {"x":7.073,"y":-0.03,"y2":-0.36,"s":"m7a"},{"x":7.12,"y":-0.05,"y2":-0.34,"s":"m7a"},{"x":7.19,"y":-0.08,"y2":-0.36,"s":"m7a"},{"x":7.206,"y":-0.19,"y2":-0.36,"s":"m7a"},{"x":7.26,"y":-0.23,"y2":-0.43,"s":"m7a"},{"x":7.3,"y":-0.25,"y2":-0.45,"s":"m7a"},{"x":7.348,"y":-0.29,"y2":-0.54,"s":"m7a"},{"x":7.412,"y":-0.25,"y2":-0.58,"s":"m7a"},
  {"x":7.572,"y":-0.72,"y2":-1.1,"s":"m7b"},{"x":7.61,"y":-0.7,"y2":-1.14,"s":"m7b"},{"x":7.65,"y":-0.74,"y2":-1.05,"s":"m7b"},{"x":7.695,"y":-0.74,"y2":-0.98,"s":"m7b"},{"x":7.725,"y":-0.74,"y2":-0.95,"s":"m7b"},{"x":7.796,"y":-0.68,"y2":-0.92,"s":"m7b"},{"x":7.846,"y":-0.62,"y2":-0.86,"s":"m7b"},{"x":7.888,"y":-0.54,"y2":-0.9,"s":"m7b"},{"x":7.914,"y":-0.5,"y2":-0.88,"s":"m7b"},
  {"x":8.073,"y":-0.03,"y2":-0.36,"s":"m8a"},{"x":8.12,"y":-0.05,"y2":-0.34,"s":"m8a"},{"x":8.19,"y":-0.08,"y2":-0.36,"s":"m8a"},{"x":8.206,"y":-0.19,"y2":-0.36,"s":"m8a"},{"x":8.26,"y":-0.23,"y2":-0.43,"s":"m8a"},{"x":8.3,"y":-0.25,"y2":-0.45,"s":"m8a"},{"x":8.348,"y":-0.29,"y2":-0.54,"s":"m8a"},{"x":8.412,"y":-0.25,"y2":-0.58,"s":"m8a"},
  {"x":8.572,"y":-0.72,"y2":-1.1,"s":"m8b"},{"x":8.61,"y":-0.7,"y2":-1.14,"s":"m8b"},{"x":8.65,"y":-0.74,"y2":-1.05,"s":"m8b"},{"x":8.695,"y":-0.74,"y2":-0.98,"s":"m8b"},{"x":8.725,"y":-0.74,"y2":-0.95,"s":"m8b"},{"x":8.796,"y":-0.68,"y2":-0.92,"s":"m8b"},{"x":8.846,"y":-0.62,"y2":-0.86,"s":"m8b"},{"x":8.888,"y":-0.54,"y2":-0.9,"s":"m8b"},{"x":8.914,"y":-0.5,"y2":-0.88,"s":"m8b"},
  {"x":9.073,"y":-0.03,"y2":-0.36,"s":"m9a"},{"x":9.12,"y":-0.05,"y2":-0.34,"s":"m9a"},{"x":9.19,"y":-0.08,"y2":-0.36,"s":"m9a"},{"x":9.206,"y":-0.19,"y2":-0.36,"s":"m9a"},{"x":9.26,"y":-0.23,"y2":-0.43,"s":"m9a"},{"x":9.3,"y":-0.25,"y2":-0.45,"s":"m9a"},{"x":9.348,"y":-0.29,"y2":-0.54,"s":"m9a"},{"x":9.412,"y":-0.25,"y2":-0.58,"s":"m9a"},
  {"x":9.572,"y":-0.72,"y2":-1.1,"s":"m9b"},{"x":9.61,"y":-0.7,"y2":-1.14,"s":"m9b"},{"x":9.65,"y":-0.74,"y2":-1.05,"s":"m9b"},{"x":9.695,"y":-0.74,"y2":-0.98,"s":"m9b"},{"x":9.725,"y":-0.74,"y2":-0.95,"s":"m9b"},{"x":9.796,"y":-0.68,"y2":-0.92,"s":"m9b"},{"x":9.846,"y":-0.62,"y2":-0.86,"s":"m9b"},{"x":9.888,"y":-0.54,"y2":-0.9,"s":"m9b"},{"x":9.914,"y":-0.5,"y2":-0.88,"s":"m9b"}
 ],
 "tbig": [{"x": 5, "y": 4.7705, "t": "T"}],
 "tbigtri": [{"x": 5, "y": 4.9508}],
 "tsmall": [{"x": 5, "y": 5.0437, "t": "T"}],
 "tsmalltri": [{"x": 5, "y": 5.2022}],
 "lm": [{"x": -0.0995, "y": 0, "c": "cm"}, {"x": -0.0995, "y": -0.7268, "c": "c3"}],
 "lmt": [{"x": -0.1208, "y": 0, "t": "M"}, {"x": -0.1208, "y": -0.7268, "t": "3"}],
 "panel": [{"x": 1.8053, "x2": 8.1663, "y": -0.6503, "y2": -4.9454}],
 "pl1": [{"x": 1.8408, "x2": 8.1308, "y": -1.5628}],
 "pl2": [{"x": 1.8408, "x2": 8.1308, "y": -2.0656}],
 "cjk": [
  {"x": 1.9119, "y": -1.0328, "t": "电源质量"},
  {"x": 4.1365, "y": -1.8087, "t": "值"}, {"x": 5.0249, "y": -1.8087, "t": "平均值"}, {"x": 5.8138, "y": -1.8087, "t": "最小值"}, {"x": 6.6027, "y": -1.8087, "t": "最大值"}, {"x": 7.3916, "y": -1.8087, "t": "标准差"}
 ],
 "labels": [
  {"x": 1.9119, "y": -2.3333, "t": "电压均方根"}, {"x": 1.9119, "y": -2.5945, "t": "电压波峰因数"}, {"x": 1.9119, "y": -2.8557, "t": "频率"}, {"x": 1.9119, "y": -3.1169, "t": "电流均方根"}, {"x": 1.9119, "y": -3.3781, "t": "电流波峰因数"}, {"x": 1.9119, "y": -3.6393, "t": "有效功率"}, {"x": 1.9119, "y": -3.9005, "t": "视在功率"}, {"x": 1.9119, "y": -4.1617, "t": "无效功率"}, {"x": 1.9119, "y": -4.423, "t": "功率因数"}, {"x": 1.9119, "y": -4.6842, "t": "相角"}
 ],
 "vals": [
  {"x": 4.1365, "y": -2.3333, "t": "220.2 V"}, {"x": 5.0249, "y": -2.3333, "t": "220.3"}, {"x": 5.8138, "y": -2.3333, "t": "220.2"}, {"x": 6.6027, "y": -2.3333, "t": "220.5"}, {"x": 7.3916, "y": -2.3333, "t": "114.1m"},
  {"x": 4.1365, "y": -2.5945, "t": "1.366"}, {"x": 5.0249, "y": -2.5945, "t": "1.392"}, {"x": 5.8138, "y": -2.5945, "t": "1.365"}, {"x": 6.6027, "y": -2.5945, "t": "1.497"}, {"x": 7.3916, "y": -2.5945, "t": "58.55m"},
  {"x": 4.1365, "y": -2.8557, "t": "50.00 Hz"}, {"x": 5.0249, "y": -2.8557, "t": "50.01"}, {"x": 5.8138, "y": -2.8557, "t": "49.99"}, {"x": 6.6027, "y": -2.8557, "t": "50.03"}, {"x": 7.3916, "y": -2.8557, "t": "13.95m"},
  {"x": 4.1365, "y": -3.1169, "t": "73.81mA"}, {"x": 5.0249, "y": -3.1169, "t": "73.81m"}, {"x": 5.8138, "y": -3.1169, "t": "73.81m"}, {"x": 6.6027, "y": -3.1169, "t": "73.81m"}, {"x": 7.3916, "y": -3.1169, "t": "0.000"},
  {"x": 4.1365, "y": -3.3781, "t": "5.135"}, {"x": 5.0249, "y": -3.3781, "t": "5.135"}, {"x": 5.8138, "y": -3.3781, "t": "5.135"}, {"x": 6.6027, "y": -3.3781, "t": "5.135"}, {"x": 7.3916, "y": -3.3781, "t": "0.000"},
  {"x": 4.1365, "y": -3.6393, "t": "10.51 W"}, {"x": 5.0249, "y": -3.6393, "t": "10.51"}, {"x": 5.8138, "y": -3.6393, "t": "10.51"}, {"x": 6.6027, "y": -3.6393, "t": "10.51"}, {"x": 7.3916, "y": -3.6393, "t": "0.000"},
  {"x": 4.1365, "y": -3.9005, "t": "16.25 伏安"}, {"x": 5.0249, "y": -3.9005, "t": "16.25"}, {"x": 5.8138, "y": -3.9005, "t": "16.25"}, {"x": 6.6027, "y": -3.9005, "t": "16.25"}, {"x": 7.3916, "y": -3.9005, "t": "0.000"},
  {"x": 4.1365, "y": -4.1617, "t": "12.40 无功"}, {"x": 5.0249, "y": -4.1617, "t": "12.40"}, {"x": 5.8138, "y": -4.1617, "t": "12.40"}, {"x": 6.6027, "y": -4.1617, "t": "12.40"}, {"x": 7.3916, "y": -4.1617, "t": "0.000"},
  {"x": 4.1365, "y": -4.423, "t": "646.5m"}, {"x": 5.0249, "y": -4.423, "t": "646.5m"}, {"x": 5.8138, "y": -4.423, "t": "646.5m"}, {"x": 6.6027, "y": -4.423, "t": "646.5m"}, {"x": 7.3916, "y": -4.423, "t": "0.000"},
  {"x": 4.1365, "y": -4.6842, "t": "49.72 °"}, {"x": 5.0249, "y": -4.6842, "t": "49.72"}, {"x": 5.8138, "y": -4.6842, "t": "49.72"}, {"x": 6.6027, "y": -4.6842, "t": "49.72"}, {"x": 7.3916, "y": -4.6842, "t": "0.000"}
 ],
 "boxes": [
  {"x": 0, "x2": 5.5295, "y": -5.0328, "y2": -5.3333},
  {"x": 0, "x2": 5.5295, "y": -5.3716, "y2": -5.6612},
  {"x": 5.6219, "x2": 7.0931, "y": -5.0328, "y2": -5.612},
  {"x": 7.1926, "x2": 8.2445, "y": -5.0328, "y2": -5.612},
  {"x": 8.3511, "x2": 10.1, "y": -5.0328, "y2": -5.612},
  {"x": 8.877, "x2": 10.1, "y": -5.9399, "y2": -6.6}
 ],
 "pills": [
  {"x": 1.4499, "x2": 1.6986, "y": -5.0765, "y2": -5.306, "c": "c2"},
  {"x": 2.8287, "x2": 3.0632, "y": -5.0765, "y2": -5.306, "c": "c3"},
  {"x": 0.0498, "x2": 0.3056, "y": -5.4044, "y2": -5.6339, "c": "cm"},
  {"x": 8.6851, "x2": 8.9055, "y": -5.0765, "y2": -5.306, "c": "c2"}
 ],
 "tbox": [{"x": 5.6717, "x2": 5.7712, "y": -5.3607, "y2": -5.5574, "c": "t"}],
 "pilltext": [
  {"x": 1.5743, "y": -5.1913, "t": "2"}, {"x": 2.946, "y": -5.1913, "t": "3"}, {"x": 0.1777, "y": -5.5191, "t": "M"}, {"x": 8.7953, "y": -5.1913, "t": "2"}
 ],
 "tboxtext": [{"x": 5.7214, "y": -5.459, "t": "T"}],
 "stext": [
  {"x": 1.8834, "y": -5.1913, "t": "100 V", "c": "c2"},
  {"x": 3.1343, "y": -5.1913, "t": "↓200mA Ω", "c": "c3"},
  {"x": 0.4833, "y": -5.5191, "t": "50.0 W", "c": "cm"},
  {"x": 3.2622, "y": -5.5191, "t": "20.0ms", "c": "cm"},
  {"x": 5.6859, "y": -5.1913, "t": "20.0ms", "c": "w"},
  {"x": 5.7783, "y": -5.4645, "t": "→▼0.00000 s", "c": "t"},
  {"x": 7.2495, "y": -5.1913, "t": "5.00M次/秒", "c": "w"},
  {"x": 7.2495, "y": -5.4645, "t": "1M 点", "c": "w"},
  {"x": 9.3959, "y": -5.1913, "t": "0.00 V", "c": "w"}
 ],
 "dtext": [
  {"x": 8.9339, "y": -6.1038, "t": "28 2月\u00a0\u00a02011"},
  {"x": 8.9339, "y": -6.3552, "t": "12:51:21"}
 ],
 "edge": [{"x": 9.0618, "y": -5.2732}, {"x": 9.0902, "y": -5.2732}, {"x": 9.1329, "y": -5.1311}, {"x": 9.1613, "y": -5.1311}],
 "buttons": [
  {"x": 0.0071, "x2": 1.1301, "y": -5.7104, "y2": -6.6},
  {"x": 1.1798, "x2": 2.3028, "y": -5.7104, "y2": -6.6},
  {"x": 2.3596, "x2": 3.4755, "y": -5.7104, "y2": -6.6},
  {"x": 3.5323, "x2": 4.6553, "y": -5.7104, "y2": -6.6},
  {"x": 4.7122, "x2": 5.8351, "y": -5.7104, "y2": -6.6},
  {"x": 5.892, "x2": 7.0149, "y": -5.7104, "y2": -6.6},
  {"x": 7.0647, "x2": 8.1876, "y": -5.7104, "y2": -6.6}
 ],
 "hl": [
  {"x": 0.2132, "x2": 0.9239, "y": -6.1257, "y2": -6.3879},
  {"x": 1.393, "x2": 2.0967, "y": -6.1257, "y2": -6.3879},
  {"x": 5.096, "x2": 5.4513, "y": -6.1257, "y2": -6.3879}
 ],
 "btext": [
  {"x": 0.5686, "y": -5.9727, "t": "应用程序"}, {"x": 0.5686, "y": -6.2568, "t": "功率分析"},
  {"x": 1.7413, "y": -5.9727, "t": "分析"}, {"x": 1.7413, "y": -6.2568, "t": "电源质量"},
  {"x": 2.9176, "y": -6.1148, "t": "定义输入"},
  {"x": 4.0938, "y": -6.1148, "t": "测量显示"},
  {"x": 5.2736, "y": -5.9727, "t": "频率参考"}, {"x": 5.2736, "y": -6.2568, "t": "电压"},
  {"x": 6.4534, "y": -6.1148, "t": "参考电平"},
  {"x": 7.6262, "y": -6.2568, "t": "更多"}
 ],
 "btri": [{"x": 7.6262, "y": -6.0109}],
 "tek": [{"x": -0.1848, "y": 5.1202, "t": "Tek"}],
 "yl": [{"x": 0.1564, "y": 5.1202, "t": "预览"}]
},
"layer": [
 {"data": {"name": "frame"}, "mark": {"type": "rect", "color": "#3b4a98"}, "encoding": {"x2": {"field": "x2"}, "y2": {"field": "y2"}}},
 {"data": {"name": "bar"}, "mark": {"type": "rect", "color": "#020602"}, "encoding": {"x2": {"field": "x2"}, "y2": {"field": "y2"}}},
 {"data": {"name": "barline"}, "mark": {"type": "rule", "color": "#d21ed2", "strokeWidth": 2}, "encoding": {"x2": {"field": "x2"}}},
 {"data": {"name": "brackets"}, "mark": {"type": "rule", "color": "#a8a8a8", "strokeWidth": 3}, "encoding": {"y2": {"field": "y2"}}},
 {"data": {"name": "plot"}, "mark": {"type": "rect", "fill": "#000000", "stroke": "#8aa6e6", "strokeWidth": 2}, "encoding": {"x2": {"field": "x2"}, "y2": {"field": "y2"}}},
 {"data": {"name": "vgrid"}, "mark": {"type": "rule", "color": "#a09e84", "strokeWidth": 1.5, "strokeDash": [1.5, 16.8], "strokeDashOffset": 0.75}, "encoding": {"y2": {"field": "y2"}}},
 {"data": {"name": "hgrid"}, "mark": {"type": "rule", "color": "#a09e84", "strokeWidth": 1.5, "strokeDash": [1.5, 26.64], "strokeDashOffset": 0.75}, "encoding": {"x2": {"field": "x2"}}},
 {"data": {"name": "vc"}, "mark": {"type": "rule", "color": "#a09e84", "strokeWidth": 1.2, "strokeDash": [1.2, 2.46], "strokeDashOffset": 0.6}, "encoding": {"y2": {"field": "y2"}}},
 {"data": {"name": "hc"}, "mark": {"type": "rule", "color": "#a09e84", "strokeWidth": 1.2, "strokeDash": [1.2, 4.43], "strokeDashOffset": 0.6}, "encoding": {"x2": {"field": "x2"}}},
 {"data": {"name": "vt"}, "mark": {"type": "rule", "color": "#a09e84", "strokeWidth": 1.2, "strokeDash": [1.2, 17.1], "strokeDashOffset": 0.6}, "encoding": {"y2": {"field": "y2"}}},
 {"data": {"name": "ht"}, "mark": {"type": "rule", "color": "#a09e84", "strokeWidth": 1.2, "strokeDash": [1.2, 26.94], "strokeDashOffset": 0.6}, "encoding": {"x2": {"field": "x2"}}},
 {"data": {"name": "redband"}, "mark": {"type": "area", "color": "#ff0000", "opacity": 0.85}, "encoding": {"y2": {"field": "y2"}, "detail": {"field": "s"}}},
 {"data": {"name": "red"}, "mark": {"type": "line", "color": "#ff0000", "strokeWidth": 1.6}, "encoding": {}},
 {"data": {"name": "magband"}, "mark": {"type": "area", "color": "#ff00ff", "opacity": 0.85}, "encoding": {"y2": {"field": "y2"}, "detail": {"field": "s"}}},
 {"data": {"name": "mag"}, "mark": {"type": "line", "color": "#ff00ff", "strokeWidth": 1.6}, "encoding": {}},
 {"data": {"name": "cyan"}, "mark": {"type": "line", "color": "#2fe0e4", "strokeWidth": 2.2}, "encoding": {}},
 {"data": {"name": "tbigtri"}, "mark": {"type": "point", "shape": "M-1,-0.6L1,-0.6L0,0.6Z", "size": 256, "filled": true, "fill": "#ffa010", "opacity": 1, "strokeWidth": 0}},
 {"data": {"name": "tbig"}, "mark": {"type": "point", "shape": "M-0.8,-1.3L0.8,-1.3L1,-1.1L1,0.9L0.4,1.3L-0.4,1.3L-1,0.9L-1,-1.1Z", "size": 289, "filled": true, "fill": "#ffa010", "stroke": "#c06000", "strokeWidth": 1, "opacity": 1}},
 {"data": {"name": "tbig"}, "mark": {"type": "text", "font": "DejaVu Sans", "fontWeight": "bold", "fontSize": 18, "fill": "#000000", "align": "center", "baseline": "middle"}, "encoding": {"text": {"field": "t"}}},
 {"data": {"name": "tsmalltri"}, "mark": {"type": "point", "shape": "M-1,-0.6L1,-0.6L0,0.6Z", "size": 121, "filled": true, "fill": "#ffa010", "opacity": 1, "strokeWidth": 0}},
 {"data": {"name": "tsmall"}, "mark": {"type": "point", "shape": "M-0.8,-1.45L0.8,-1.45L1,-1.25L1,1.0L0.4,1.45L-0.4,1.45L-1,1.0L-1,-1.25Z", "size": 121, "filled": true, "fill": "#ffa010", "stroke": "#c06000", "strokeWidth": 1, "opacity": 1}},
 {"data": {"name": "tsmall"}, "mark": {"type": "text", "font": "DejaVu Sans", "fontWeight": "bold", "fontSize": 13, "fill": "#000000", "align": "center", "baseline": "middle"}, "encoding": {"text": {"field": "t"}}},
 {"data": {"name": "lm"}, "mark": {"type": "point", "shape": "M-1,-0.75L0.5,-0.75L1,0L0.5,0.75L-1,0.75Z", "size": 784, "filled": true, "opacity": 1, "stroke": "#200010", "strokeWidth": 1}, "encoding": {"color": {"field": "c", "type": "nominal", "scale": {"domain": ["c2", "c3", "cm", "w", "t"], "range": ["#2bcfe0", "#a626b6", "#b41414", "#f2f2f2", "#ffa020"]}, "legend": null}}},
 {"data": {"name": "lmt"}, "mark": {"type": "text", "font": "DejaVu Sans", "fontSize": 19, "fill": "#120008", "align": "center", "baseline": "middle"}, "encoding": {"text": {"field": "t"}}},
 {"data": {"name": "panel"}, "mark": {"type": "rect", "fill": "#2a3662", "stroke": "#f39a30", "strokeWidth": 4, "cornerRadius": 8}, "encoding": {"x2": {"field": "x2"}, "y2": {"field": "y2"}}},
 {"data": {"name": "pl1"}, "mark": {"type": "rule", "color": "#dfe2ec", "strokeWidth": 3}, "encoding": {"x2": {"field": "x2"}}},
 {"data": {"name": "pl2"}, "mark": {"type": "rule", "color": "#aab3cc", "strokeWidth": 2}, "encoding": {"x2": {"field": "x2"}}},
 {"data": {"name": "cjk"}, "mark": {"type": "text", "font": "Noto Sans CJK SC", "fontSize": 24, "fill": "#e4e6ee", "align": "left", "baseline": "middle"}, "encoding": {"text": {"field": "t"}}},
 {"data": {"name": "labels"}, "mark": {"type": "text", "font": "Noto Sans CJK SC", "fontSize": 23, "fill": "#e4e6ee", "align": "left", "baseline": "middle"}, "encoding": {"text": {"field": "t"}}},
 {"data": {"name": "vals"}, "mark": {"type": "text", "font": "DejaVu Sans, Noto Sans CJK SC", "fontWeight": "bold", "fontSize": 20, "fill": "#f0f0f2", "align": "left", "baseline": "middle"}, "encoding": {"text": {"field": "t"}}},
 {"data": {"name": "boxes"}, "mark": {"type": "rect", "fill": "#000000", "stroke": "#c4c4c4", "strokeWidth": 1.5, "cornerRadius": 7}, "encoding": {"x2": {"field": "x2"}, "y2": {"field": "y2"}}},
 {"data": {"name": "pills"}, "mark": {"type": "rect", "cornerRadius": 10, "opacity": 1}, "encoding": {"x2": {"field": "x2"}, "y2": {"field": "y2"}, "color": {"field": "c", "type": "nominal", "scale": {"domain": ["c2", "c3", "cm", "w", "t"], "range": ["#2bcfe0", "#a626b6", "#b41414", "#f2f2f2", "#ffa020"]}, "legend": null}}},
 {"data": {"name": "tbox"}, "mark": {"type": "rect", "cornerRadius": 2, "opacity": 1}, "encoding": {"x2": {"field": "x2"}, "y2": {"field": "y2"}, "color": {"field": "c", "type": "nominal", "scale": {"domain": ["c2", "c3", "cm", "w", "t"], "range": ["#2bcfe0", "#a626b6", "#b41414", "#f2f2f2", "#ffa020"]}, "legend": null}}},
 {"data": {"name": "pilltext"}, "mark": {"type": "text", "font": "DejaVu Sans", "fontWeight": "bold", "fontSize": 17, "fill": "#0a0a14", "align": "center", "baseline": "middle"}, "encoding": {"text": {"field": "t"}}},
 {"data": {"name": "tboxtext"}, "mark": {"type": "text", "font": "DejaVu Sans", "fontWeight": "bold", "fontSize": 14, "fill": "#0a0a14", "align": "center", "baseline": "middle"}, "encoding": {"text": {"field": "t"}}},
 {"data": {"name": "stext"}, "mark": {"type": "text", "font": "DejaVu Sans, Noto Sans CJK SC", "fontSize": 21, "align": "left", "baseline": "middle", "opacity": 1}, "encoding": {"text": {"field": "t"}, "color": {"field": "c", "type": "nominal", "scale": {"domain": ["c2", "c3", "cm", "w", "t"], "range": ["#2bcfe0", "#a626b6", "#b41414", "#f2f2f2", "#ffa020"]}, "legend": null}}},
 {"data": {"name": "dtext"}, "mark": {"type": "text", "font": "DejaVu Sans, Noto Sans CJK SC", "fontSize": 22, "fill": "#f2f2f2", "align": "left", "baseline": "middle"}, "encoding": {"text": {"field": "t"}}},
 {"data": {"name": "edge"}, "mark": {"type": "line", "color": "#f2f2f2", "strokeWidth": 3}, "encoding": {}},
 {"data": {"name": "buttons"}, "mark": {"type": "rect", "fill": "#5a8de6", "stroke": "#2c4290", "strokeWidth": 1.5, "cornerRadius": 6}, "encoding": {"x2": {"field": "x2"}, "y2": {"field": "y2"}}},
 {"data": {"name": "hl"}, "mark": {"type": "rect", "fill": "#d0d4e2"}, "encoding": {"x2": {"field": "x2"}, "y2": {"field": "y2"}}},
 {"data": {"name": "btext"}, "mark": {"type": "text", "font": "Noto Sans CJK SC", "fontSize": 23, "fill": "#080808", "align": "center", "baseline": "middle"}, "encoding": {"text": {"field": "t"}}},
 {"data": {"name": "btri"}, "mark": {"type": "point", "shape": "M-1,0.5L1,0.5L0,-0.5Z", "size": 900, "filled": true, "fill": "#e6e8f2", "opacity": 1, "strokeWidth": 0}},
 {"data": {"name": "tek"}, "mark": {"type": "text", "font": "Liberation Serif", "fontWeight": "bold", "fontSize": 27, "fill": "#000000", "align": "left", "baseline": "middle"}, "encoding": {"text": {"field": "t"}}},
 {"data": {"name": "yl"}, "mark": {"type": "text", "font": "Noto Sans CJK SC", "fontSize": 24, "fill": "#f4f4f4", "align": "left", "baseline": "middle"}, "encoding": {"text": {"field": "t"}}}
]
}
